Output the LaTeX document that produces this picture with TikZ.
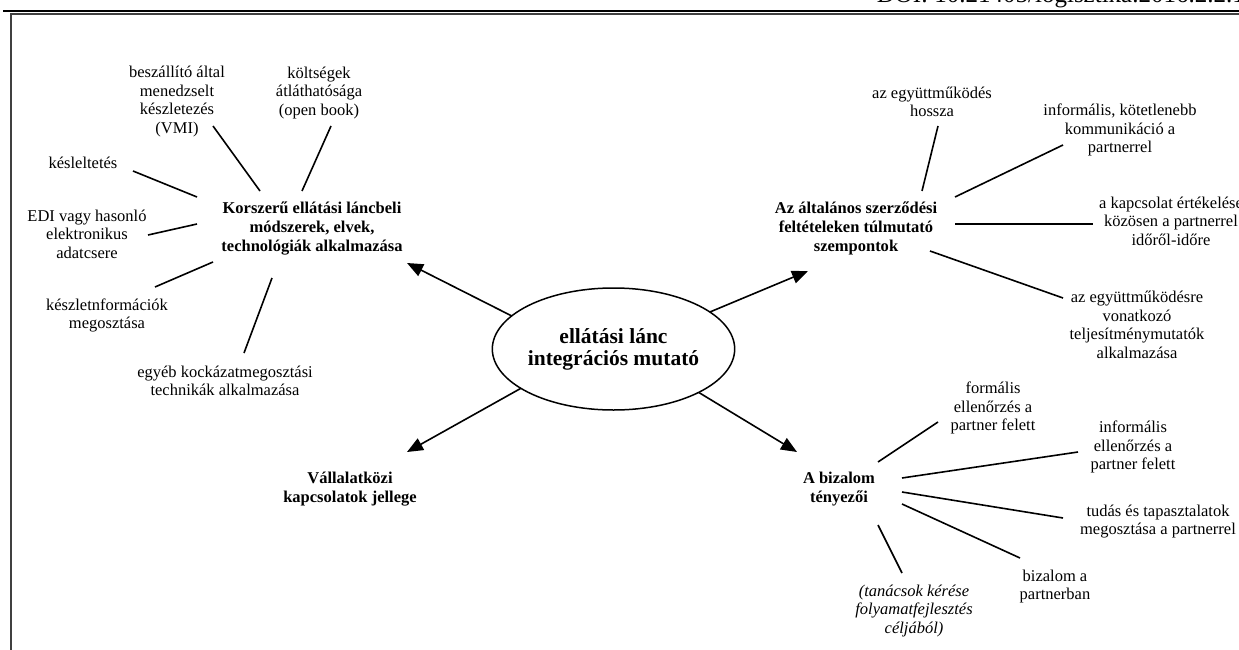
\documentclass[tikz,border=0pt]{standalone}
\usepackage{fontspec}
\setmainfont{Liberation Serif}
\usetikzlibrary{shapes.geometric,arrows.meta}
\tikzset{
  leaf/.style={align=center,inner sep=0pt,font=\fontsize{16.5}{18.5}\selectfont},
  hub/.style={align=center,inner sep=0pt,font=\fontsize{16.5}{19}\selectfont\bfseries},
  spoke/.style={line width=1.6pt},
  arr/.style={line width=1.6pt,-{Triangle[length=16pt,width=13pt]}},
}
\begin{document}
\begin{tikzpicture}[x=1pt,y=-1pt]
\useasboundingbox (0,0) rectangle (1239,650);
% header and frame
\node[anchor=base east,inner sep=0pt,font=\fontsize{25}{27}\selectfont] (doi) at (1245,3) {DOI: 10.21405/logisztika.2016.2.2.1};
\draw[line width=1.2pt] (3,11) -- (1239,11);
\draw[line width=1.6pt,black!75] (1245,14.3) -- (10.8,14.3) -- (10.8,655);

% centre
\node[draw,ellipse,line width=1.5pt,minimum width=237pt,minimum height=122pt,inner sep=0pt,outer sep=0pt,
      align=center,font=\fontsize{21.5}{22}\selectfont\bfseries] (ell) at (613.5,349) {ellátási lánc\\integrációs mutató};

% hubs
\node[hub] (h1) at (312,229) {Korszerű ellátási láncbeli\\módszerek, elvek,\\technológiák alkalmazása};
\node[hub] (h2) at (856,228) {Az általános szerződési\\feltételeken túlmutató\\szempontok};
\node[hub] (h3) at (350,489.5) {Vállalatközi\\kapcsolatok jellege};
\node[hub] (h4) at (839,489) {A bizalom\\tényezői};

% arrow tips
\coordinate (t1) at (407,263);
\coordinate (t2) at (808,271);
\coordinate (t3) at (407,452);
\coordinate (t4) at (797,452);
\draw[arr] (ell.162.8) -- (t1);
\draw[arr] (ell.21.5) -- (t2);
\draw[arr] (ell.203.8) -- (t3);
\draw[arr] (ell.333) -- (t4);

% leaves of hub 1
\node[leaf] (a1) at (177,101.5) {beszállító által\\menedzselt\\készletezés\\(VMI)};
\node[leaf] (a2) at (319,93) {költségek\\átláthatósága\\(open book)};
\node[leaf] (a3) at (83,163) {késleltetés};
\node[leaf] (a4) at (87,234) {EDI vagy hasonló\\elektronikus\\adatcsere};
\node[leaf] (a5) at (107,315.5) {készletnformációk\\megosztása};
\node[leaf] (a6) at (225,381) {egyéb kockázatmegosztási\\technikák alkalmazása};

% leaves of hub 2
\node[leaf] (b1) at (932,102) {az együttműködés\\hossza};
\node[leaf] (b2) at (1120,130) {informális, kötetlenebb\\kommunikáció a\\partnerrel};
\node[leaf] (b3) at (1171,221) {a kapcsolat értékelése\\közösen a partnerrel\\időről-időre};
\node[leaf] (b4) at (1137,325) {az együttműködésre\\vonatkozó\\teljesítménymutatók\\alkalmazása};

% leaves of hub 4
\node[leaf] (c1) at (993,408) {formális\\ellenőrzés a\\partner felett};
\node[leaf] (c2) at (1133,447) {informális\\ellenőrzés a\\partner felett};
\node[leaf] (c3) at (1158,521.5) {tudás és tapasztalatok\\megosztása a partnerrel};
\node[leaf] (c4) at (1055,586.5) {bizalom a\\partnerban};
\node[leaf,font=\fontsize{16.5}{18.5}\selectfont\itshape] (c5) at (914,611) {(tanácsok kérése\\folyamatfejlesztés\\céljából)};

% spoke end points
\coordinate (a1h) at (260,191); \coordinate (a1l) at (213,126);
\coordinate (a2h) at (302,191); \coordinate (a2l) at (331,126);
\coordinate (a3h) at (197,197); \coordinate (a3l) at (133,171);
\coordinate (a4h) at (197,224); \coordinate (a4l) at (148,235);
\coordinate (a5h) at (213,262); \coordinate (a5l) at (155,287);
\coordinate (a6h) at (272,278); \coordinate (a6l) at (244,353);

\coordinate (b1h) at (922,191); \coordinate (b1l) at (938,126);
\coordinate (b2h) at (955,197); \coordinate (b2l) at (1063,145);
\coordinate (b3h) at (955,224); \coordinate (b3l) at (1093,224);
\coordinate (b4h) at (930,251); \coordinate (b4l) at (1063,298);

\coordinate (c1h) at (878,462); \coordinate (c1l) at (938,422);
\coordinate (c2h) at (902,478); \coordinate (c2l) at (1078,452);
\coordinate (c3h) at (902,492); \coordinate (c3l) at (1063,518);
\coordinate (c4h) at (902,504); \coordinate (c4l) at (1020,558);
\coordinate (c5h) at (878,525); \coordinate (c5l) at (902,573);

\foreach \s in {a1,a2,a3,a4,a5,a6,b1,b2,b3,b4,c1,c2,c3,c4,c5}
  \draw[spoke] (\s h) -- (\s l);
\end{tikzpicture}
\end{document}
